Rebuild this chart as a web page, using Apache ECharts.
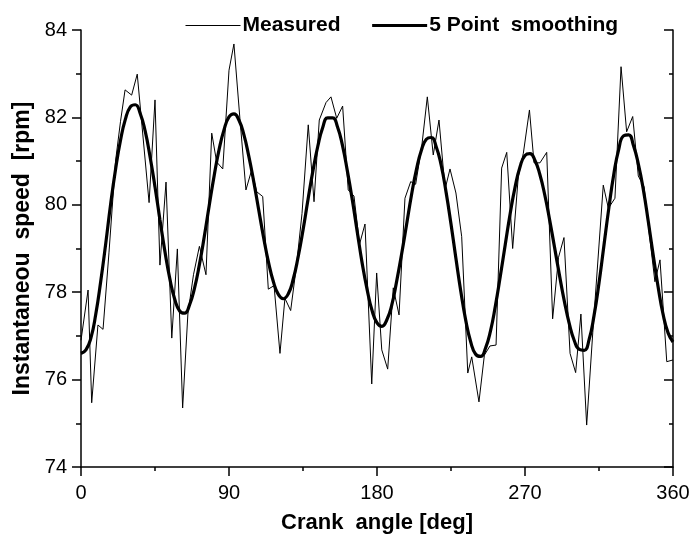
<!DOCTYPE html>
<html>
<head>
<meta charset="utf-8">
<script src="https://cdn.jsdelivr.net/npm/echarts@6/dist/echarts.min.js"></script>
<style>html,body{margin:0;padding:0;background:#fff;}#c{width:693px;height:547px;}</style>
</head>
<body>
<div id="c"></div>
<script>
var seriesNames = ['Measured', '5 Point  smoothing'];
var xTicks = [0, 90, 180, 270, 360];
var yTicks = [74, 76, 78, 80, 82, 84];

var measuredAngle = [0, 4.3, 6.5, 10.3, 13.4, 17, 21, 24, 26.8, 30.8, 34.2, 41.4, 45, 48, 51.7, 55.2, 58.6, 61.8, 65, 68.4, 72, 76, 79.5, 82.5, 86.2, 90, 93, 96.7, 100.3, 103.8, 106.8, 110.5, 113.9, 117.4, 121, 124, 127.5, 131, 134.4, 138.2, 141.7, 144.9, 149, 152, 155.5, 159.1, 162.5, 166, 169.4, 172.7, 176.8, 179.8, 182.9, 186.5, 189.9, 193.4, 197, 200.5, 203.5, 207.2, 210.6, 214.2, 217.7, 221.4, 224.4, 228, 231.5, 235.2, 237.6, 242, 245.3, 248.7, 252.4, 255.8, 258.9, 262.5, 265.9, 269, 272.7, 275.5, 279.1, 283.2, 286.8, 290.4, 293.7, 297.4, 300.8, 304, 307.5, 311.2, 317.6, 320.7, 324.7, 328.4, 331.8, 335.5, 338.9, 342.4, 345.7, 349, 352.1, 356.2, 360];
var measuredSpeed = [76.9, 78.05, 75.47, 77.25, 77.15, 78.9, 81.0, 81.9, 82.63, 82.51, 82.99, 80.05, 82.4, 78.62, 80.52, 76.95, 78.99, 75.35, 77.5, 78.4, 79.05, 78.4, 81.64, 80.98, 80.82, 83.08, 83.68, 81.94, 80.34, 80.8, 80.3, 80.19, 78.07, 78.15, 76.6, 77.86, 77.58, 78.6, 79.8, 81.83, 80.07, 81.94, 82.34, 82.47, 81.98, 82.26, 80.34, 80.2, 79.1, 79.56, 75.9, 78.44, 76.68, 76.24, 78.1, 77.48, 80.15, 80.53, 80.47, 81.33, 82.47, 81.14, 81.94, 80.36, 80.82, 80.27, 79.27, 76.15, 76.52, 75.49, 76.56, 76.77, 76.79, 80.84, 81.2, 79.0, 80.64, 81.18, 82.17, 80.96, 80.96, 81.2, 77.39, 78.8, 79.25, 76.6, 76.16, 77.5, 74.96, 77.07, 80.45, 79.92, 80.15, 83.16, 81.67, 82.02, 80.66, 80.41, 79.3, 78.24, 78.74, 76.41, 76.45];

var smoothAngle = [0, 3, 6, 9, 12, 15, 18, 21, 24, 27, 30, 33, 36, 39, 42, 45, 48, 51, 54, 57, 60, 63, 66, 69, 72, 75, 78, 81, 84, 87, 90, 93, 96, 99, 102, 105, 108, 111, 114, 117, 120, 123, 126, 129, 132, 135, 138, 141, 144, 147, 150, 153, 156, 159, 162, 165, 168, 171, 174, 177, 180, 183, 186, 189, 192, 195, 198, 201, 204, 207, 210, 213, 216, 219, 222, 225, 228, 231, 234, 237, 240, 243, 246, 249, 252, 255, 258, 261, 264, 267, 270, 273, 276, 279, 282, 285, 288, 291, 294, 297, 300, 303, 306, 309, 312, 315, 318, 321, 324, 327, 330, 333, 336, 339, 342, 345, 348, 351, 354, 357, 360];
var smoothSpeed = [76.6, 76.68, 76.95, 77.5, 78.25, 79.1, 80.01, 80.81, 81.47, 81.96, 82.24, 82.29, 82.09, 81.69, 81.1, 80.41, 79.66, 78.94, 78.31, 77.84, 77.57, 77.52, 77.71, 78.09, 78.63, 79.28, 79.99, 80.67, 81.27, 81.72, 82.01, 82.08, 81.94, 81.61, 81.12, 80.54, 79.9, 79.26, 78.69, 78.24, 77.95, 77.85, 77.96, 78.29, 78.8, 79.42, 80.11, 80.77, 81.34, 81.77, 81.99, 81.99, 81.78, 81.36, 80.77, 80.11, 79.38, 78.66, 78.06, 77.58, 77.3, 77.22, 77.37, 77.71, 78.26, 78.88, 79.55, 80.23, 80.81, 81.25, 81.5, 81.54, 81.33, 80.91, 80.29, 79.56, 78.77, 78.01, 77.35, 76.86, 76.58, 76.53, 76.72, 77.11, 77.69, 78.37, 79.09, 79.8, 80.41, 80.87, 81.13, 81.17, 81.02, 80.7, 80.23, 79.65, 79.02, 78.38, 77.78, 77.27, 76.89, 76.69, 76.67, 76.92, 77.47, 78.21, 79.07, 79.93, 80.7, 81.27, 81.58, 81.6, 81.35, 80.92, 80.34, 79.61, 78.84, 78.11, 77.49, 77.07, 76.86];

function pairs(xs, ys) { return xs.map(function (x, i) { return [x, ys[i]]; }); }

var chart = echarts.init(document.getElementById('c'), null, {renderer: 'canvas'});
var tickFont = "'Liberation Sans', Arial, sans-serif";
var boldFont = "'Liberation Sans', Arial, sans-serif";
chart.setOption({
  animation: false,
  backgroundColor: '#fff',
  legend: {
    left: 180, top: 10,
    itemWidth: 55, itemHeight: 14, itemGap: 30,
    itemStyle: {opacity: 0},
    textStyle: {fontFamily: boldFont, fontWeight: 'bold', fontSize: 21, color: '#000', padding: [0, 0, 0, -3]},
    data: [
      {name: seriesNames[0], lineStyle: {width: 1, color: '#000'}},
      {name: seriesNames[1], lineStyle: {width: 3.2, color: '#000'}}
    ]
  },
  grid: {left: 81, right: 20, top: 30, bottom: 80, show: false},
  xAxis: [{
    type: 'value', min: xTicks[0], max: xTicks[xTicks.length - 1], interval: 90,
    name: 'Crank  angle [deg]', nameLocation: 'middle', nameGap: 45,
    nameTextStyle: {fontFamily: boldFont, fontWeight: 'bold', fontSize: 22, color: '#000'},
    axisLine: {show: true, onZero: false, lineStyle: {color: '#000', width: 1.5}},
    axisTick: {show: true, inside: false, length: 9, lineStyle: {color: '#000', width: 1.5}},
    minorTick: {show: true, splitNumber: 2, length: 4, lineStyle: {color: '#000', width: 1.5}},
    axisLabel: {fontFamily: tickFont, fontSize: 20, color: '#000', margin: 16},
    splitLine: {show: false}
  }],
  yAxis: [{
    type: 'value', min: yTicks[0], max: yTicks[yTicks.length - 1], interval: 2,
    name: 'Instantaneou  speed  [rpm]', nameLocation: 'middle', nameGap: 47,
    nameTextStyle: {fontFamily: boldFont, fontWeight: 'bold', fontSize: 23, color: '#000'},
    axisLine: {show: true, onZero: false, lineStyle: {color: '#000', width: 1.5}},
    axisTick: {show: true, inside: false, length: 9, lineStyle: {color: '#000', width: 1.5}},
    minorTick: {show: true, splitNumber: 2, length: 5, lineStyle: {color: '#000', width: 1.5}},
    axisLabel: {fontFamily: tickFont, fontSize: 20, color: '#000', margin: 14},
    splitLine: {show: false}
  }, {
    type: 'value', position: 'right', min: yTicks[0], max: yTicks[yTicks.length - 1], interval: 2,
    axisLine: {show: true, onZero: false, lineStyle: {color: '#000', width: 1.5}},
    axisTick: {show: true, inside: true, length: 9, lineStyle: {color: '#000', width: 1.5}},
    minorTick: {show: true, splitNumber: 2, length: 4, lineStyle: {color: '#000', width: 1.5}},
    axisLabel: {show: false},
    splitLine: {show: false}
  }],
  series: [{
    name: seriesNames[0], type: 'line', data: pairs(measuredAngle, measuredSpeed),
    symbol: 'none', lineStyle: {color: '#000', width: 1}, itemStyle: {color: '#000'}
  }, {
    name: seriesNames[1], type: 'line', data: pairs(smoothAngle, smoothSpeed),
    symbol: 'none', smooth: true, lineStyle: {color: '#000', width: 3.2}, itemStyle: {color: '#000'}
  }]
});
</script>
</body>
</html>
